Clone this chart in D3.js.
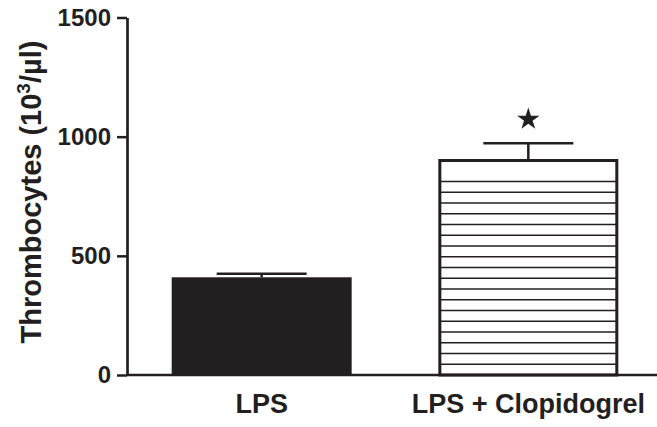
<!DOCTYPE html>
<html>
<head>
<meta charset="utf-8">
<script src="https://cdn.jsdelivr.net/npm/d3@7"></script>
<style>
  html, body { margin: 0; padding: 0; background: #fff; }
  svg { display: block; }
  text { font-family: "Liberation Sans", Arial, Helvetica, sans-serif; font-weight: bold; fill: #231f20; }
</style>
</head>
<body>
<script>
// Thrombocyte counts (10^3/µl), mean ± SEM per group
const groups = ["LPS", "LPS + Clopidogrel"];
const means = [410, 900];
const sems = [15, 72];
const significant = [false, true];
const yTicks = [0, 500, 1000, 1500];

const W = 657, H = 427;
const ink = "#231f20";

const svg = d3.select("body").append("svg")
  .attr("width", W).attr("height", H);

const y = d3.scaleLinear().domain([0, 1500]).range([375, 17.5]);
const x = d3.scaleBand().domain(groups).range([127, 663])
  .paddingInner(0.325).paddingOuter(0.1676);

const data = groups.map((g, i) => ({ g, mean: means[i], sem: sems[i], sig: significant[i], i }));

// error bars (drawn first so bars cover the stems)
const err = svg.append("g").attr("stroke", ink).attr("stroke-width", 2.5).attr("fill", "none");
data.forEach(d => {
  const cx = x(d.g) + x.bandwidth() / 2;
  const hw = x.bandwidth() / 4;
  err.append("line").attr("x1", cx).attr("x2", cx)
    .attr("y1", y(d.mean)).attr("y2", y(d.mean + d.sem));
  err.append("line").attr("x1", cx - hw).attr("x2", cx + hw)
    .attr("y1", y(d.mean + d.sem)).attr("y2", y(d.mean + d.sem));
});

// bars: solid for the first group, horizontally hatched outline for the second
const sw = 3;
const hatchStep = 10.75;
data.forEach(d => {
  if (d.i === 0) {
    svg.append("rect")
      .attr("x", x(d.g)).attr("width", x.bandwidth())
      .attr("y", y(d.mean)).attr("height", y(0) - y(d.mean))
      .attr("fill", ink);
  } else {
    const x0 = x(d.g) + sw / 2, x1 = x(d.g) + x.bandwidth() - sw / 2;
    svg.append("rect")
      .attr("x", x0).attr("width", x1 - x0)
      .attr("y", y(d.mean)).attr("height", y(0) - y(d.mean))
      .attr("fill", "#fff");
    const n = Math.floor((y(0) - y(d.mean)) / hatchStep);
    svg.append("g").attr("stroke", ink).attr("stroke-width", 1.6)
      .selectAll("line").data(d3.range(1, n)).join("line")
      .attr("x1", x0).attr("x2", x1)
      .attr("y1", k => y(0) - k * hatchStep)
      .attr("y2", k => y(0) - k * hatchStep);
    svg.append("rect")
      .attr("x", x0).attr("width", x1 - x0)
      .attr("y", y(d.mean)).attr("height", y(0) - y(d.mean))
      .attr("fill", "none")
      .attr("stroke", ink).attr("stroke-width", sw);
  }
});

// significance marker
data.filter(d => d.sig).forEach(d => {
  svg.append("path")
    .attr("d", d3.symbol(d3.symbolStar, 155)())
    .attr("transform", `translate(${x(d.g) + x.bandwidth() / 2},${y(d.mean + d.sem) - 24})`)
    .attr("fill", ink);
});

// y axis
const yAxis = svg.append("g")
  .attr("transform", "translate(127,0)")
  .call(d3.axisLeft(y).tickValues(yTicks).tickFormat(d3.format("d"))
    .tickSize(10).tickSizeOuter(0).tickPadding(6));
yAxis.select(".domain").attr("stroke", ink).attr("stroke-width", 2.7);
yAxis.selectAll(".tick line").attr("stroke", ink).attr("stroke-width", 2.5);
yAxis.selectAll(".tick text")
  .attr("font-family", "'Liberation Sans', Arial, sans-serif")
  .attr("font-weight", "bold").attr("font-size", 24).attr("fill", ink);

// x axis baseline
svg.append("line")
  .attr("x1", 127).attr("x2", W)
  .attr("y1", y(0)).attr("y2", y(0))
  .attr("stroke", ink).attr("stroke-width", 2.7);

// category labels
svg.append("g").selectAll("text").data(data).join("text")
  .attr("x", d => x(d.g) + x.bandwidth() / 2)
  .attr("y", 413)
  .attr("text-anchor", "middle")
  .attr("font-size", 27)
  .text(d => d.g);

// y title
const title = svg.append("text")
  .attr("transform", "translate(41,192) rotate(-90)")
  .attr("text-anchor", "middle")
  .attr("font-size", 29);
title.append("tspan").text("Thrombocytes (10");
title.append("tspan").attr("dy", -11).attr("font-size", 19).text("3");
title.append("tspan").attr("dy", 11).text("/µl)");
</script>
</body>
</html>
